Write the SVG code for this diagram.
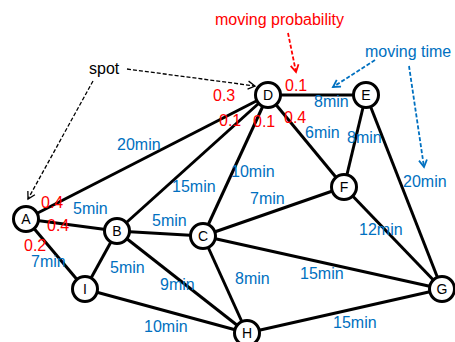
<svg xmlns="http://www.w3.org/2000/svg" width="455" height="342" viewBox="0 0 455 342">
<style>
.e{stroke:#000;stroke-width:3;fill:none}
.n circle{fill:#fff;stroke:#000;stroke-width:3}
.n text{font-family:"Liberation Sans",Arial,sans-serif;font-size:14px;fill:#000;text-anchor:middle}
.t{font-family:"Liberation Sans",Arial,sans-serif;font-size:16px;fill:#0070C0}
.p{font-family:"Liberation Sans",Arial,sans-serif;font-size:16px;fill:#FF0000}
.k{font-family:"Liberation Sans",Arial,sans-serif;font-size:16px;fill:#000}
</style>
<defs>
<marker id="ak" markerWidth="10" markerHeight="10" refX="8" refY="5" orient="auto" markerUnits="userSpaceOnUse"><path d="M1,1 L8,5 L1,9" fill="none" stroke="#000" stroke-width="1.3"/></marker>
<marker id="ar" markerWidth="10" markerHeight="10" refX="8" refY="5" orient="auto" markerUnits="userSpaceOnUse"><path d="M1,1 L8,5 L1,9" fill="none" stroke="#FF0000" stroke-width="1.8"/></marker>
<marker id="ab" markerWidth="10" markerHeight="10" refX="8" refY="5" orient="auto" markerUnits="userSpaceOnUse"><path d="M1,1 L8,5 L1,9" fill="none" stroke="#0070C0" stroke-width="1.8"/></marker>
</defs>
<g id="connectors">
<line class="e" x1="26" y1="219" x2="268" y2="95"/>
<line class="e" x1="26" y1="219" x2="117" y2="231"/>
<line class="e" x1="26" y1="219" x2="85" y2="289"/>
<line class="e" x1="117" y1="231" x2="268" y2="95"/>
<line class="e" x1="117" y1="231" x2="203" y2="236"/>
<line class="e" x1="117" y1="231" x2="85" y2="289"/>
<line class="e" x1="117" y1="231" x2="247" y2="333"/>
<line class="e" x1="203" y1="236" x2="268" y2="95"/>
<line class="e" x1="203" y1="236" x2="344" y2="187"/>
<line class="e" x1="203" y1="236" x2="442" y2="289"/>
<line class="e" x1="203" y1="236" x2="247" y2="333"/>
<line class="e" x1="268" y1="95" x2="366" y2="95"/>
<line class="e" x1="268" y1="95" x2="344" y2="187"/>
<line class="e" x1="366" y1="95" x2="344" y2="187"/>
<line class="e" x1="366" y1="95" x2="442" y2="289"/>
<line class="e" x1="344" y1="187" x2="442" y2="289"/>
<line class="e" x1="85" y1="289" x2="247" y2="333"/>
<line class="e" x1="247" y1="333" x2="442" y2="289"/>
</g>
<g id="annotations">
<line x1="127" y1="69" x2="255" y2="86" stroke="#000" stroke-width="1.3" stroke-dasharray="4,2" marker-end="url(#ak)"/>
<line x1="93" y1="81" x2="28" y2="199" stroke="#000" stroke-width="1.3" stroke-dasharray="4,2" marker-end="url(#ak)"/>
<line x1="288" y1="33" x2="296" y2="72" stroke="#FF0000" stroke-width="1.8" stroke-dasharray="4,2" marker-end="url(#ar)"/>
<line x1="375" y1="60" x2="333" y2="87" stroke="#0070C0" stroke-width="1.8" stroke-dasharray="4,2" marker-end="url(#ab)"/>
<line x1="409" y1="66" x2="424" y2="167" stroke="#0070C0" stroke-width="1.8" stroke-dasharray="4,2" marker-end="url(#ab)"/>
<text class="p" x="215" y="25">moving probability</text>
<text class="k" x="89" y="74">spot</text>
<text class="t" x="365" y="57">moving time</text>
</g>
<g id="labels">
<text class="t" x="117" y="150">20min</text>
<text class="t" x="172" y="192">15min</text>
<text class="t" x="231" y="177">10min</text>
<text class="t" x="250" y="204">7min</text>
<text class="t" x="305" y="138">6min</text>
<text class="t" x="314" y="107">8min</text>
<text class="t" x="347" y="143">8min</text>
<text class="t" x="403" y="187">20min</text>
<text class="t" x="359" y="235">12min</text>
<text class="t" x="300" y="279">15min</text>
<text class="t" x="333" y="328">15min</text>
<text class="t" x="235" y="284">8min</text>
<text class="t" x="160" y="290">9min</text>
<text class="t" x="144" y="332">10min</text>
<text class="t" x="110" y="273">5min</text>
<text class="t" x="152" y="226">5min</text>
<text class="t" x="73" y="214">5min</text>
<text class="t" x="31" y="267">7min</text>
<text class="p" x="41" y="208">0.4</text>
<text class="p" x="47" y="231">0.4</text>
<text class="p" x="24" y="251">0.2</text>
<text class="p" x="213" y="101">0.3</text>
<text class="p" x="219" y="126">0.1</text>
<text class="p" x="253" y="127">0.1</text>
<text class="p" x="285" y="91">0.1</text>
<text class="p" x="284" y="123">0.4</text>
</g>
<g id="A" class="n"><circle cx="26" cy="219" r="12.5"/><text x="26" y="224">A</text></g>
<g id="B" class="n"><circle cx="117" cy="231" r="12.5"/><text x="117" y="236">B</text></g>
<g id="C" class="n"><circle cx="203" cy="236" r="12.5"/><text x="203" y="241">C</text></g>
<g id="D" class="n"><circle cx="268" cy="95" r="12.5"/><text x="268" y="100">D</text></g>
<g id="E" class="n"><circle cx="366" cy="95" r="12.5"/><text x="366" y="100">E</text></g>
<g id="F" class="n"><circle cx="344" cy="187" r="12.5"/><text x="344" y="192">F</text></g>
<g id="G" class="n"><circle cx="442" cy="289" r="12.5"/><text x="442" y="294">G</text></g>
<g id="H" class="n"><circle cx="247" cy="333" r="12.5"/><text x="247" y="338">H</text></g>
<g id="I" class="n"><circle cx="85" cy="289" r="12.5"/><text x="85" y="294">I</text></g>
</svg>
